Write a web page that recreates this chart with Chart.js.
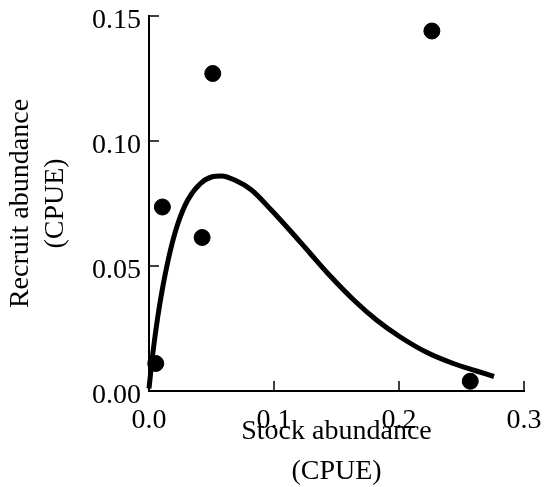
<!DOCTYPE html>
<html>
<head>
<meta charset="utf-8">
<script src="https://cdn.jsdelivr.net/npm/chart.js@4.4.1/dist/chart.umd.min.js"></script>
<style>
  body { margin: 0; background: #fff; }
  #wrap { width: 545px; height: 487px; position: relative; }
</style>
</head>
<body>
<div id="wrap"><canvas id="chart"></canvas></div>
<script>
// observed stock / recruit pairs (CPUE)
const stockObs = [0.0054, 0.0107, 0.0425, 0.051, 0.2263, 0.257];
const recruitObs = [0.011, 0.0736, 0.0614, 0.127, 0.144, 0.0039];

// fitted curve
const fitStock = [0, 0.003, 0.007, 0.011, 0.017, 0.023, 0.031, 0.041, 0.050, 0.058, 0.069, 0.082, 0.098, 0.113, 0.129, 0.145, 0.164, 0.182, 0.201, 0.222, 0.244, 0.262, 0.276];
const fitRecruit = [0.001, 0.0148, 0.0296, 0.0416, 0.056, 0.0668, 0.0764, 0.0829, 0.0856, 0.086, 0.0843, 0.0804, 0.0723, 0.0641, 0.055, 0.046, 0.0363, 0.0284, 0.0216, 0.0155, 0.0109, 0.008, 0.0058];

const xTicks = [0, 0.1, 0.2, 0.3];
const yTicks = [0, 0.05, 0.10, 0.15];

const serif = '"Liberation Serif", "Times New Roman", serif';

// inward tick marks like the original figure
const inwardTicks = {
  id: 'inwardTicks',
  afterDraw(chart) {
    const { ctx, chartArea, scales } = chart;
    ctx.save();
    ctx.strokeStyle = '#000';
    ctx.lineWidth = 1.5;
    ctx.beginPath();
    yTicks.forEach((v) => {
      if (v === 0) return;
      const py = scales.y.getPixelForValue(v);
      ctx.moveTo(chartArea.left, py);
      ctx.lineTo(chartArea.left + 10, py);
    });
    xTicks.forEach((v) => {
      if (v === 0) return;
      const px = scales.x.getPixelForValue(v);
      ctx.moveTo(px, chartArea.bottom);
      ctx.lineTo(px, chartArea.bottom - 10);
    });
    ctx.stroke();
    ctx.restore();
  }
};

new Chart(document.getElementById('chart').getContext('2d'), {
  type: 'scatter',
  data: {
    datasets: [
      {
        label: 'Observed',
        data: stockObs.map((s, i) => ({ x: s, y: recruitObs[i] })),
        backgroundColor: '#000',
        borderColor: '#000',
        pointRadius: 8,
        pointHoverRadius: 8,
        clip: false
      },
      {
        label: 'Fit',
        data: fitStock.map((s, i) => ({ x: s, y: fitRecruit[i] })),
        showLine: true,
        borderColor: '#000',
        borderWidth: 5,
        borderJoinStyle: 'round',
        pointRadius: 0,
        cubicInterpolationMode: 'monotone',
        fill: false,
        clip: false
      }
    ]
  },
  plugins: [inwardTicks],
  options: {
    responsive: true,
    maintainAspectRatio: false,
    animation: false,
    layout: { padding: { top: 16, right: 21, left: 0, bottom: 0 } },
    plugins: {
      legend: { display: false },
      tooltip: { enabled: false }
    },
    scales: {
      x: {
        type: 'linear',
        min: 0,
        max: 0.3,
        afterFit: (scale) => {
          scale.height = 96;
          scale.paddingLeft = 0;
          scale.paddingRight = 0;
        },
        afterBuildTicks: (scale) => { scale.ticks = xTicks.map((v) => ({ value: v })); },
        grid: { display: false, drawTicks: false },
        border: { display: true, color: '#000', width: 2 },
        ticks: {
          color: '#000',
          padding: 13,
          font: { family: serif, size: 28 },
          callback: (v) => Number(v).toFixed(1)
        },
        title: {
          display: true,
          text: ['Stock abundance', '(CPUE)'],
          color: '#000',
          font: { family: serif, size: 28, lineHeight: 40 / 28 },
          padding: { top: 0, bottom: -5 }
        }
      },
      y: {
        type: 'linear',
        min: 0,
        max: 0.15,
        afterFit: (scale) => {
          scale.width = 149;
          scale.paddingTop = 0;
          scale.paddingBottom = 0;
        },
        afterBuildTicks: (scale) => { scale.ticks = yTicks.map((v) => ({ value: v })); },
        grid: { display: false, drawTicks: false },
        border: { display: true, color: '#000', width: 2 },
        ticks: {
          color: '#000',
          padding: 8,
          labelOffset: 5,
          font: { family: serif, size: 28 },
          callback: (v) => Number(v).toFixed(2)
        },
        title: {
          display: true,
          text: ['Recruit abundance', '(CPUE)'],
          color: '#000',
          font: { family: serif, size: 28, lineHeight: 35 / 28 },
          padding: { top: 3, bottom: 0 }
        }
      }
    }
  }
});
</script>
</body>
</html>
